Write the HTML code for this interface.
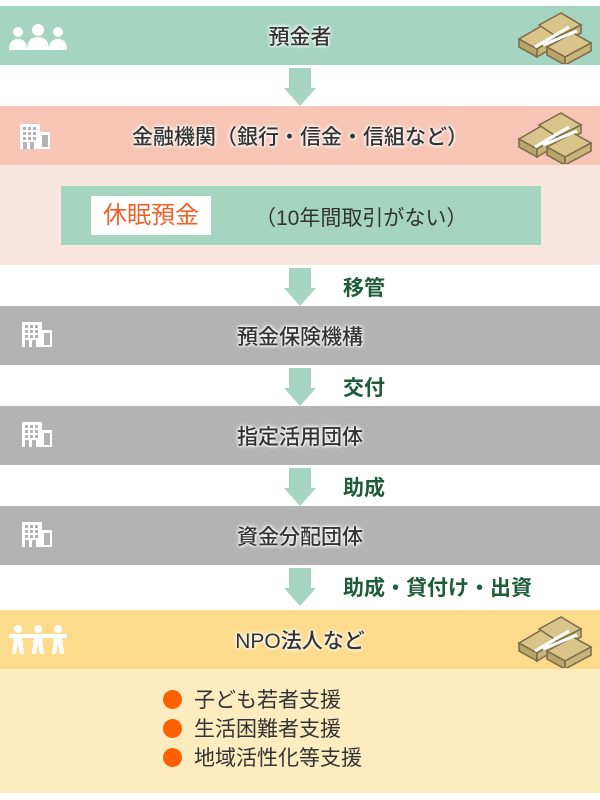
<!DOCTYPE html>
<html><head><meta charset="utf-8"><style>
body{margin:0;width:600px;height:800px;background:#fff;position:relative;overflow:hidden;font-family:"Liberation Sans","Noto Sans CJK JP",sans-serif}
.b{position:absolute;left:0;width:600px}
.t{position:absolute;left:0;width:600px;text-align:center;font-size:21px;font-weight:500;color:#333;text-shadow:0 0 3px #fff,0 0 3px #fff,0 0 5px #fff}
.arr{position:absolute;left:289px;width:22px;height:20px;background:#a5d4c1}
.tri{position:absolute;left:284px;width:0;height:0;border-left:16px solid transparent;border-right:16px solid transparent;border-top:18px solid #a5d4c1}
.lab{position:absolute;left:343px;font-size:21px;font-weight:bold;color:#1f5c3c}
.ic{position:absolute}
.li{height:29px}
.dot{display:inline-block;width:19px;height:19px;border-radius:50%;background:#ff6000;vertical-align:-2px;margin-right:12px}
</style></head><body>
<svg width="0" height="0" style="position:absolute"><defs>
<g id="bld"><rect x="0" y="0" width="20" height="25" fill="#fff"/><rect x="20" y="8" width="10" height="17" fill="#fff"/>
<g fill="#b3b3b3"><rect x="3" y="3" width="3" height="3"/><rect x="8" y="3" width="3" height="3"/><rect x="13" y="3" width="3" height="3"/><rect x="3" y="8" width="3" height="3"/><rect x="8" y="8" width="3" height="3"/><rect x="13" y="8" width="3" height="3"/><rect x="3" y="13" width="3" height="3"/><rect x="8" y="13" width="3" height="3"/><rect x="13" y="13" width="3" height="3"/><rect x="3" y="18" width="4" height="7"/><rect x="10" y="18" width="4" height="7"/><rect x="22" y="11" width="6" height="12"/></g></g>
<g id="money"><g stroke="#7a6a4a" stroke-width="1.5"><polygon points="2,22 26,8 44,18 20,32" fill="#d9c48a"/><polygon points="2,22 20,32 20,40 2,30" fill="#b9a46a"/><polygon points="20,32 44,18 44,26 20,40" fill="#c9b47a"/><polygon points="22,8 44,-4 64,8 40,20" fill="#d9c48a"/><polygon points="40,20 64,8 64,16 40,28" fill="#c9b47a"/><polygon points="30,30 56,16 74,26 48,40" fill="#d9c48a"/><polygon points="30,30 48,40 48,48 30,38" fill="#b9a46a"/><polygon points="48,40 74,26 74,34 48,48" fill="#c9b47a"/></g><path d="M18,30 L52,10 M26,28 L60,14" stroke="#fff" stroke-width="3"/></g>
</defs></svg>

<div class="b" style="top:6px;height:59px;background:#a5d4c1"></div>
<svg class="ic" style="left:8px;top:22px" width="60" height="30"><g fill="#fff"><circle cx="10" cy="10" r="5"/><path d="M1,28 Q1,17 10,17 Q19,17 19,28Z"/><circle cx="30" cy="8" r="6"/><path d="M19,28 Q19,15 30,15 Q41,15 41,28Z"/><circle cx="50" cy="10" r="5"/><path d="M41,28 Q41,17 50,17 Q59,17 59,28Z"/></g></svg>
<svg class="ic" style="left:515px;top:12px" width="80" height="52"><use href="#money" transform="translate(2,5)"/></svg>
<div class="t" style="top:21px">預金者</div>

<div class="arr" style="top:68px"></div><div class="tri" style="top:88px"></div>

<div class="b" style="top:106px;height:59px;background:#f6c5b5"></div>
<div class="b" style="top:165px;height:100px;background:#f9e6de"></div>
<svg class="ic" style="left:20px;top:124px" width="32" height="26"><use href="#bld"/></svg>
<svg class="ic" style="left:515px;top:112px" width="80" height="52"><use href="#money" transform="translate(2,5)"/></svg>
<div class="t" style="top:121px">金融機関（銀行・信金・信組など）</div>
<div style="position:absolute;left:61px;top:186px;width:480px;height:59px;background:#a5d4c1"></div>
<div style="position:absolute;left:91px;top:196px;width:120px;height:39px;background:#fff;color:#f0602a;font-size:24px;line-height:39px;text-align:center">休眠預金</div>
<div style="position:absolute;left:255px;top:202px;font-size:21px;color:#333">（10年間取引がない）</div>

<div class="arr" style="top:268px"></div><div class="tri" style="top:288px"></div>
<div class="lab" style="top:272px">移管</div>
<div class="b" style="top:306px;height:59px;background:#b2b3b2"></div>
<svg class="ic" style="left:22px;top:322px" width="32" height="26"><use href="#bld"/></svg>
<div class="t" style="top:321px">預金保険機構</div>

<div class="arr" style="top:368px"></div><div class="tri" style="top:388px"></div>
<div class="lab" style="top:372px">交付</div>
<div class="b" style="top:406px;height:59px;background:#b2b3b2"></div>
<svg class="ic" style="left:22px;top:422px" width="32" height="26"><use href="#bld"/></svg>
<div class="t" style="top:421px">指定活用団体</div>

<div class="arr" style="top:468px"></div><div class="tri" style="top:488px"></div>
<div class="lab" style="top:472px">助成</div>
<div class="b" style="top:506px;height:59px;background:#b2b3b2"></div>
<svg class="ic" style="left:22px;top:522px" width="32" height="26"><use href="#bld"/></svg>
<div class="t" style="top:521px">資金分配団体</div>

<div class="arr" style="top:568px"></div><div class="tri" style="top:588px"></div>
<div class="lab" style="top:572px">助成・貸付け・出資</div>
<div class="b" style="top:610px;height:59px;background:#fcdc8c"></div>
<div class="b" style="top:669px;height:124px;background:#fcecc0"></div>
<svg class="ic" style="left:8px;top:624px" width="60" height="32"><g fill="#fff"><circle cx="10" cy="5" r="4"/><circle cx="30" cy="5" r="4"/><circle cx="50" cy="5" r="4"/><path d="M1,10 H59 V14 H54 L56,30 H52 L50,20 L48,30 H44 L46,14 H34 L36,30 H32 L30,20 L28,30 H24 L26,14 H14 L16,30 H12 L10,20 L8,30 H4 L6,14 H1Z"/></g></svg>
<svg class="ic" style="left:515px;top:616px" width="80" height="52"><use href="#money" transform="translate(2,5)"/></svg>
<div class="t" style="top:625px">NPO法人など</div>
<div style="position:absolute;left:163px;top:686px;font-size:21px;line-height:29px;color:#333">
<div class="li"><span class="dot"></span>子ども若者支援</div>
<div class="li"><span class="dot"></span>生活困難者支援</div>
<div class="li"><span class="dot"></span>地域活性化等支援</div>
</div>
</body></html>
